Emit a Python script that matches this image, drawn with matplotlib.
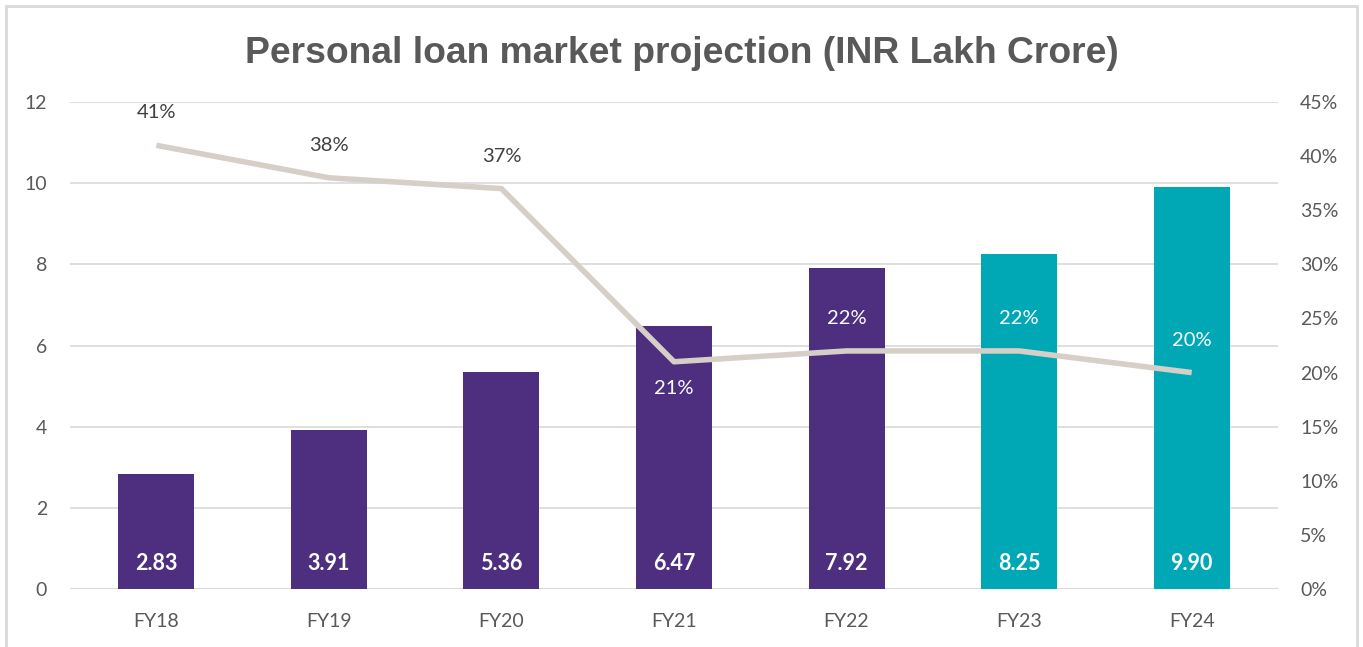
import matplotlib.pyplot as plt
from matplotlib.patches import Rectangle
from matplotlib.ticker import FuncFormatter, MultipleLocator

# data
years = ["FY18", "FY19", "FY20", "FY21", "FY22", "FY23", "FY24"]
market_size = [2.83, 3.91, 5.36, 6.47, 7.92, 8.25, 9.90]
growth_pct = [41, 38, 37, 21, 22, 22, 20]
is_projection = [False, False, False, False, False, True, True]

purple = "#4E2E7F"
teal = "#00A8B5"
line_col = "#D6CFC7"
grid_col = "#D9D9D9"
txt_col = "#595959"

plt.rcParams["font.family"] = ["Lato", "DejaVu Sans"]

fig = plt.figure(figsize=(13.63, 6.47), dpi=100)
ax = fig.add_axes([0.0514, 0.0896, 0.8862, 0.7527])

x = list(range(len(years)))
colors = [teal if p else purple for p in is_projection]
ax.bar(x, market_size, width=0.44, color=colors, zorder=2)

for xi, v in zip(x, market_size):
    ax.text(xi, 0.64, f"{v:.2f}", ha="center", va="center", color="white",
            fontsize=15.5, fontweight="bold", zorder=3)

ax.set_xlim(-0.5, len(years) - 0.5)
ax.set_ylim(0, 12)
ax.yaxis.set_major_locator(MultipleLocator(2))
ax.set_xticks(x)
ax.set_xticklabels(years)
ax.grid(axis="y", color=grid_col, linewidth=1.2, zorder=0)
for s in ax.spines.values():
    s.set_visible(False)
ax.tick_params(length=0, labelsize=14, colors=txt_col, pad=17)
ax.tick_params(axis="y", pad=16.5)
ax.axhline(0, color=grid_col, linewidth=1.5, zorder=1)

ax2 = ax.twinx()
ax2.plot(x, growth_pct, color=line_col, linewidth=4, solid_capstyle="butt", zorder=4)
ax2.set_ylim(0, 45)
ax2.yaxis.set_major_locator(MultipleLocator(5))
ax2.yaxis.set_major_formatter(FuncFormatter(lambda v, p: f"{v:.0f}%"))
for s in ax2.spines.values():
    s.set_visible(False)
ax2.tick_params(length=0, labelsize=14, colors=txt_col, pad=16)

# growth labels
offsets = [3, 3, 3, -2.5, 3, 3, 3]
for xi, g, off in zip(x, growth_pct, offsets):
    c = "#404040" if xi < 3 else "white"
    ax2.text(xi, g + off, f"{g}%", ha="center", va="center", color=c, fontsize=14.5)

fig.text(0.5, 0.918, "Personal loan market projection (INR Lakh Crore)", ha="center",
         va="center", fontsize=26.8, fontweight="bold", color=txt_col,
         family=["Liberation Sans", "DejaVu Sans"])

# outer frame
fig.patches.append(Rectangle((6 / 1363, -0.1), 1351 / 1363, 1.1 - 6 / 647,
                             transform=fig.transFigure, fill=False,
                             edgecolor="#D9D9D9", linewidth=2))

fig.savefig("out.png", dpi=100)
